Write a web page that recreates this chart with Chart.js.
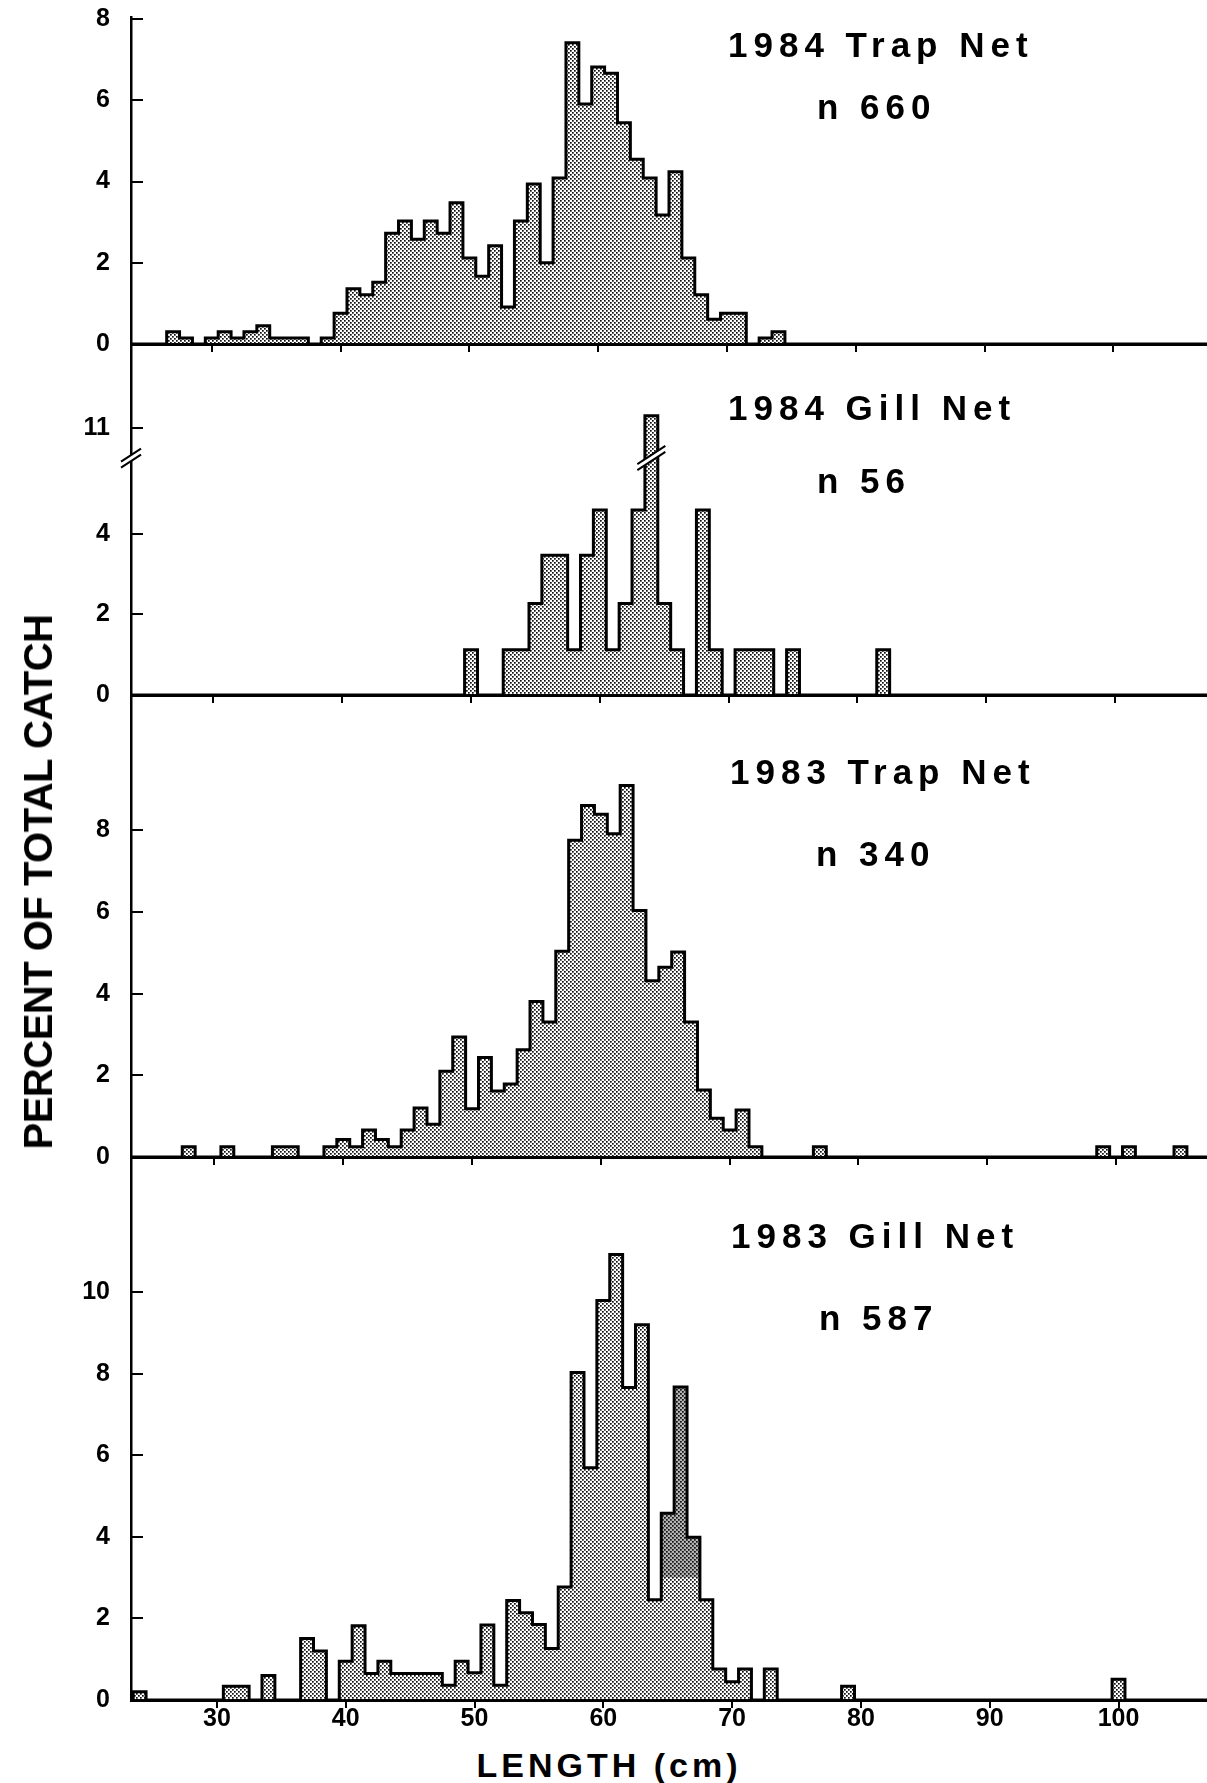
<!DOCTYPE html>
<html>
<head>
<meta charset="utf-8">
<script src="https://cdn.jsdelivr.net/npm/chart.js@4.4.1/dist/chart.umd.min.js"></script>
<style>
  html, body { margin: 0; padding: 0; background: #fff; }
  #page { position: relative; width: 1207px; height: 1783px; overflow: hidden;
          font-family: 'Liberation Sans', Arial, sans-serif; font-weight: bold; color: #000; }
  #page canvas { position: absolute; left: 0; }
  .ttl { position: absolute; white-space: pre; line-height: 1; font-size: 35px; letter-spacing: 6px; }
  #ytitle { position: absolute; left: 38px; top: 882px; white-space: nowrap; line-height: 1;
            font-size: 40px; letter-spacing: -0.5px; transform: translate(-50%, -50%) rotate(-90deg); }
  #xtitle { position: absolute; left: 609px; top: 1765px; white-space: nowrap; line-height: 1;
            font-size: 34px; letter-spacing: 4px; transform: translate(-50%, -50%); }
</style>
</head>
<body>
<div id="page">
  <canvas id="trap84" width="1207" height="360" style="top:0px"></canvas>
  <canvas id="gill84" width="1207" height="387" style="top:324px"></canvas>
  <canvas id="trap83" width="1207" height="498" style="top:675px"></canvas>
  <canvas id="gill83" width="1207" height="609" style="top:1137px"></canvas>

  <div class="ttl" style="left:728px; top:27px">1984 Trap Net</div>
  <div class="ttl" style="left:817px; top:89px">n 660</div>
  <div class="ttl" style="left:728px; top:390px">1984 Gill Net</div>
  <div class="ttl" style="left:817px; top:463px">n 56</div>
  <div class="ttl" style="left:730px; top:754px">1983 Trap Net</div>
  <div class="ttl" style="left:816px; top:836px">n 340</div>
  <div class="ttl" style="left:731px; top:1218px">1983 Gill Net</div>
  <div class="ttl" style="left:819px; top:1300px">n 587</div>

  <div id="ytitle">PERCENT OF TOTAL CATCH</div>
  <div id="xtitle">LENGTH (cm)</div>
</div>
<script>
// length classes (cm), one bin per cm
const lengthCm = [
  23, 24, 25, 26, 27, 28, 29, 30, 31, 32,
  33, 34, 35, 36, 37, 38, 39, 40, 41, 42,
  43, 44, 45, 46, 47, 48, 49, 50, 51, 52,
  53, 54, 55, 56, 57, 58, 59, 60, 61, 62,
  63, 64, 65, 66, 67, 68, 69, 70, 71, 72,
  73, 74, 75, 76, 77, 78, 79, 80, 81, 82,
  83, 84, 85, 86, 87, 88, 89, 90, 91, 92,
  93, 94, 95, 96, 97, 98, 99, 100, 101, 102,
  103, 104, 105, 106, 107, 108
];

// percent of total catch per length class
const trapNet1984 = [
  0, 0, 0, 0, 0.3, 0.15, 0, 0.15, 0.3, 0.15,
  0.3, 0.45, 0.15, 0.15, 0.15, 0, 0.15, 0.76, 1.36, 1.21,
  1.52, 2.73, 3.03, 2.58, 3.03, 2.73, 3.48, 2.12, 1.67, 2.42,
  0.91, 3.03, 3.94, 2.0, 4.09, 7.42, 5.91, 6.82, 6.67, 5.45,
  4.55, 4.09, 3.18, 4.24, 2.12, 1.21, 0.61, 0.76, 0.76, 0,
  0.15, 0.3, 0, 0, 0, 0, 0, 0, 0, 0,
  0, 0, 0, 0, 0, 0, 0, 0, 0, 0,
  0, 0, 0, 0, 0, 0, 0, 0, 0, 0,
  0, 0, 0, 0, 0, 0
];
const gillNet1984 = [
  0, 0, 0, 0, 0, 0, 0, 0, 0, 0,
  0, 0, 0, 0, 0, 0, 0, 0, 0, 0,
  0, 0, 0, 0, 0, 0, 0, 1.12, 0, 0,
  1.12, 1.12, 2.27, 3.47, 3.47, 1.12, 3.47, 4.59, 1.12, 2.27,
  4.59, 11.3, 2.27, 1.12, 0, 4.59, 1.12, 0, 1.12, 1.12,
  1.12, 0, 1.12, 0, 0, 0, 0, 0, 0, 1.12,
  0, 0, 0, 0, 0, 0, 0, 0, 0, 0,
  0, 0, 0, 0, 0, 0, 0, 0, 0, 0,
  0, 0, 0, 0, 0, 0
];
const trapNet1983 = [
  0, 0, 0, 0, 0, 0.25, 0, 0, 0.25, 0,
  0, 0, 0.25, 0.25, 0, 0, 0.25, 0.43, 0.25, 0.66,
  0.43, 0.25, 0.66, 1.2, 0.8, 2.1, 2.94, 1.18, 2.44, 1.62,
  1.79, 2.63, 3.81, 3.31, 5.04, 7.76, 8.61, 8.4, 7.92, 9.1,
  6.04, 4.32, 4.65, 5.02, 3.31, 1.64, 0.95, 0.66, 1.15, 0.25,
  0, 0, 0, 0, 0.25, 0, 0, 0, 0, 0,
  0, 0, 0, 0, 0, 0, 0, 0, 0, 0,
  0, 0, 0, 0, 0, 0, 0.25, 0, 0.25, 0,
  0, 0, 0.25, 0, 0, 0
];
const gillNet1983 = [
  0, 0.2, 0, 0, 0, 0, 0, 0, 0.34, 0.34,
  0, 0.6, 0, 0, 1.51, 1.2, 0, 0.95, 1.82, 0.65,
  0.95, 0.65, 0.65, 0.65, 0.65, 0.36, 0.95, 0.67, 1.84, 0.36,
  2.44, 2.14, 1.85, 1.26, 2.77, 8.03, 5.69, 9.79, 10.92, 7.66,
  9.2, 2.46, 4.58, 7.67, 3.99, 2.46, 0.76, 0.45, 0.76, 0,
  0.76, 0, 0, 0, 0, 0, 0.34, 0, 0, 0,
  0, 0, 0, 0, 0, 0, 0, 0, 0, 0,
  0, 0, 0, 0, 0, 0, 0, 0.51, 0, 0,
  0, 0, 0, 0, 0, 0
];

// darker overprint on the 1983 gill net peak
const gill83Overprint = [65, 66, 67];
const overprintFloor = 3.0;

// tick labels
const lengthTicks = [30, 40, 50, 60, 70, 80, 90, 100];
const pctTicks8 = [0, 2, 4, 6, 8];
const pctTicks10 = [0, 2, 4, 6, 8, 10];
const gillNet84Ticks = [0, 2, 4, 11];

// broken axis on the 1984 gill net panel: values above the break are shifted down
const gillBreakShift = 4.37;
const gillBreakAt = 5.88;

Chart.defaults.font.family = "'Liberation Sans', Arial, sans-serif";
Chart.defaults.color = '#000';

const dotFill = (() => {
  const tile = document.createElement('canvas');
  tile.width = 4; tile.height = 4;
  const g = tile.getContext('2d');
  g.fillStyle = '#111';
  g.fillRect(0, 0, 1.7, 1.7);
  g.fillRect(2, 2, 1.7, 1.7);
  return g.createPattern(tile, 'repeat');
})();

// "//" marks across the y axis and the tall bar
const axisBreak = {
  id: 'axisBreak',
  afterDatasetsDraw(chart, args, opts) {
    const { ctx, scales: { x, y } } = chart;
    const yb = y.getPixelForValue(opts.at);
    const marks = [[x.left, 10], [x.getPixelForValue(opts.bin), 14]];
    ctx.save();
    marks.forEach(([cx, w]) => {
      const s = 0.65, gap = 3;
      ctx.fillStyle = '#fff';
      ctx.beginPath();
      ctx.moveTo(cx - w, yb + gap + w * s);
      ctx.lineTo(cx + w, yb + gap - w * s);
      ctx.lineTo(cx + w, yb - gap - w * s);
      ctx.lineTo(cx - w, yb - gap + w * s);
      ctx.closePath();
      ctx.fill();
      ctx.strokeStyle = '#000';
      ctx.lineWidth = 2;
      [gap, -gap].forEach(d => {
        ctx.beginPath();
        ctx.moveTo(cx - w, yb + d + w * s);
        ctx.lineTo(cx + w, yb + d - w * s);
        ctx.stroke();
      });
    });
    ctx.restore();
  }
};

function makePanel(id, values, p) {
  const toDisplay = p.shift ? (v => (v > gillBreakAt ? v - p.shift : v)) : (v => v);
  const fromDisplay = p.shift ? (v => (v > gillBreakAt ? v + p.shift : v)) : (v => v);

  const datasets = [{
    data: lengthCm.map((len, i) => ({ x: len, y: toDisplay(values[i]) })),
    stepped: 'middle',
    borderColor: '#000',
    borderWidth: 3,
    borderJoinStyle: 'miter',
    backgroundColor: dotFill,
    fill: 'origin',
    pointRadius: 0,
    order: 1
  }];

  if (p.overprint) {
    const lo = Math.min(...p.overprint) - 1, hi = Math.max(...p.overprint) + 1;
    datasets.push({
      data: lengthCm.filter(l => l >= lo && l <= hi).map(l => ({
        x: l,
        y: p.overprint.includes(l) ? values[lengthCm.indexOf(l)] : overprintFloor
      })),
      stepped: 'middle',
      borderWidth: 0,
      backgroundColor: 'rgba(0,0,0,0.3)',
      fill: { value: overprintFloor },
      pointRadius: 0,
      order: 2
    });
  }

  return new Chart(document.getElementById(id), {
    type: 'line',
    data: { datasets },
    plugins: p.shift ? [axisBreak] : [],
    options: {
      responsive: false,
      animation: false,
      layout: { padding: { top: p.padTop, bottom: 6, left: 0, right: 0 } },
      plugins: {
        legend: { display: false },
        tooltip: { enabled: false },
        axisBreak: { at: gillBreakAt, bin: 64 }
      },
      scales: {
        x: {
          type: 'linear',
          min: p.xMin,
          max: p.xMin + 83.54,
          afterBuildTicks: s => { s.ticks = lengthTicks.map(v => ({ value: v })); },
          afterFit: s => { s.height = p.bottom ? 40 : 10; },
          grid: { drawOnChartArea: false, drawTicks: true, tickLength: 8, color: '#000', lineWidth: 2 },
          border: { display: true, color: '#000', width: 3 },
          ticks: {
            display: !!p.bottom,
            autoSkip: false,
            maxRotation: 0,
            padding: -4,
            font: { size: 25, weight: 'bold' }
          }
        },
        y: {
          min: 0,
          max: p.yMax,
          afterBuildTicks: s => { s.ticks = p.ticks.map(v => ({ value: toDisplay(v) })); },
          // fixed axis width; label room comes from the layout padding
          afterFit: s => { s.width = 131; s.paddingTop = 0; s.paddingBottom = 0; },
          grid: { drawOnChartArea: false, drawTicks: true, tickLength: -12, color: '#000', lineWidth: 2 },
          border: { display: true, color: '#000', width: 2.5 },
          ticks: {
            padding: 33,
            font: { size: 25, weight: 'bold' },
            callback: v => String(Math.round(fromDisplay(v)))
          }
        }
      }
    }
  });
}

makePanel('trap84', trapNet1984, { xMin: 23.73, yMax: 8.054, ticks: pctTicks8, padTop: 17 });
makePanel('gill84', gillNet1984, { xMin: 23.6, yMax: 8.71, ticks: gillNet84Ticks, padTop: 20, shift: gillBreakShift });
makePanel('trap83', trapNet1983, { xMin: 23.52, yMax: 11.32, ticks: pctTicks8, padTop: 20 });
makePanel('gill83', gillNet1983, { xMin: 23.33, yMax: 13.31, ticks: pctTicks10, padTop: 20, bottom: true, overprint: gill83Overprint });
</script>
</body>
</html>
